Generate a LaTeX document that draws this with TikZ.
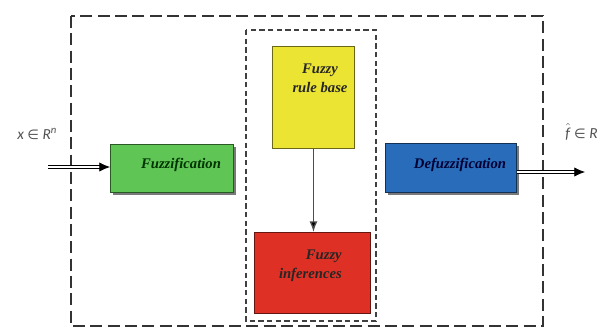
\documentclass[tikz,border=0pt]{standalone}
\usepackage{fontspec}
\setmainfont{Liberation Serif}
\newfontfamily\carl{Carlito}
\newfontfamily\dejav{DejaVu Sans}
\usetikzlibrary{arrows.meta,shadows,calc}
\definecolor{cgreen}{RGB}{95,198,85}
\definecolor{cyellow}{RGB}{236,228,50}
\definecolor{cred}{RGB}{222,48,36}
\definecolor{cblue}{RGB}{40,108,186}
\definecolor{labgray}{RGB}{80,80,80}
\begin{document}
\begin{tikzpicture}[x=0.75pt,y=-0.75pt,
  blockbox/.style={draw=#1!45!black, fill=#1, line width=0.7pt, inner sep=0pt, anchor=north west},
  shadowed/.style={drop shadow={shadow xshift=2pt, shadow yshift=-2pt, fill=black!70, opacity=0.75}},
  blocktext/.style={font=\fontsize{11}{14.5}\selectfont\bfseries\itshape, text=black!85, inner sep=0pt, align=center},
  outerdash/.style={draw=black!80, line width=1.5pt, dash pattern=on 9pt off 4pt},
  innerdash/.style={draw=black!75, line width=1.1pt, dash pattern=on 4pt off 2.5pt},
  dblarrow/.style={draw=black, line width=0.6pt, double=white, double distance=1.4pt, -{Latex[length=8pt,width=7pt]}},
  lab/.style={font=\carl\fontsize{11.5}{13}\selectfont, text=labgray, inner sep=0pt}
]
\useasboundingbox (0,0) rectangle (601,329);
% dashed frames
\draw[outerdash] (71,16) rectangle (543,326);
\draw[innerdash] (246,30) rectangle (376,321);
% blocks
\node[blockbox=cgreen, shadowed, minimum width=92.25pt, minimum height=36pt] (green) at (110,144) {};
\node[blockbox=cblue, shadowed, minimum width=98.25pt, minimum height=36.75pt] (blue) at (385,143) {};
\node[blockbox=cyellow, minimum width=61.5pt, minimum height=76.5pt] (yellow) at (272,46) {};
\node[blockbox=cred, minimum width=87pt, minimum height=60.75pt] (red) at (254,232) {};
% texts
\node[blocktext, text=black!80!green] (tgreen) at (181,165) {Fuzzification};
\node[blocktext, text=black!80!blue] (tblue) at (460,165) {Defuzzification};
\node[blocktext] (tyellow) at (320,78) {Fuzzy\\rule base};
\node[blocktext, align=right, anchor=east] (tred) at (342,266) {Fuzzy\\inferences};
% connectors
\coordinate (in) at (48,167);
\coordinate (out) at (585,172);
\draw[dblarrow] (in) -- (green.west |- in);
\draw[dblarrow] (blue.east |- out) -- (out);
\draw[line width=1pt, black!70, -{Latex[length=8pt,width=6pt,fill=black]}] (yellow.south) -- (yellow.south |- red.north);
% labels
\node[lab, anchor=base west] (xin) at (17,139) {\textit{x} {\dejav\fontsize{10}{11}\selectfont ∈} \textit{R}\textsuperscript{\textit{n}}};
\node[lab, anchor=base west] (fout) at (565,138) {$\hat{\mbox{\carl\textit{f}}}$ {\dejav\fontsize{10}{11}\selectfont ∈} \textit{R}};
\end{tikzpicture}
\end{document}
